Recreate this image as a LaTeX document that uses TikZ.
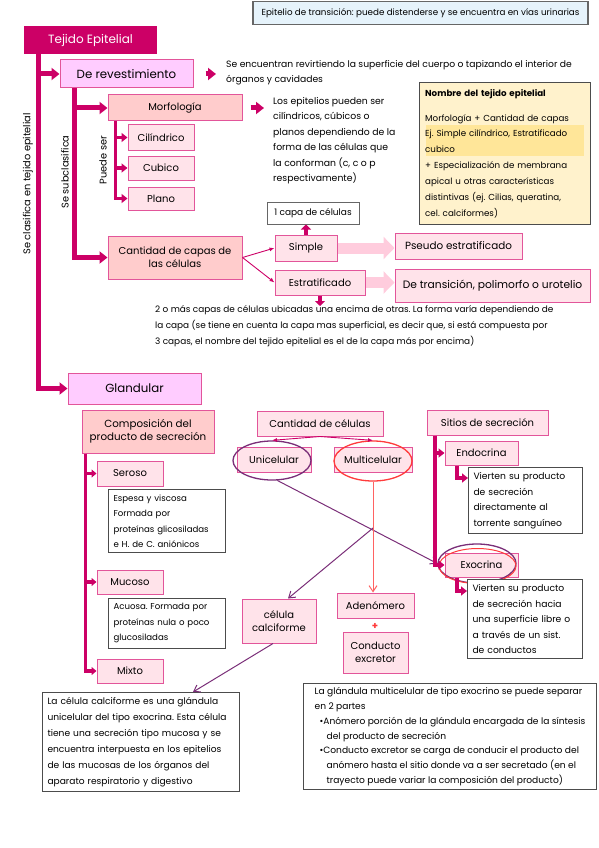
\documentclass[tikz,border=0pt]{standalone}
\usepackage{fontspec}
\setmainfont{Poppins}
\usetikzlibrary{arrows.meta,shapes.geometric}

\definecolor{magdark}{HTML}{CC0066}
\definecolor{bordpink}{HTML}{E2559A}
\definecolor{revfill}{HTML}{FFCCFF}
\definecolor{subfill}{HTML}{FFCCCC}
\definecolor{leaffill}{HTML}{FFE3EA}
\definecolor{fatpink}{HTML}{FFCCDD}
\definecolor{purpl}{HTML}{7A2E78}
\definecolor{redl}{HTML}{FF3B3B}
\definecolor{notefill}{HTML}{FFF2CC}
\definecolor{hilite}{HTML}{FFE699}
\definecolor{bannerfill}{HTML}{E6F3FB}
\newcommand\fs[1]{\fontsize{#1}{15.5}\selectfont}

\begin{document}
\frenchspacing
\begin{tikzpicture}[x=1pt,y=-1pt,>=Latex,
  every node/.style={font=\fontsize{10}{13}\selectfont,align=center,inner sep=2pt},
  sz/.style 2 args={minimum width=#1pt,minimum height=#2pt},
  dark/.style={fill=magdark,text=white,font=\fontsize{12}{14}\selectfont},
  lvl1/.style={draw=bordpink,line width=1pt,fill=revfill,font=\fontsize{11.8}{14}\selectfont},
  lvl2/.style={draw=bordpink,line width=1pt,fill=subfill},
  leaf/.style={draw=bordpink,line width=1pt,fill=leaffill},
  note/.style={draw=black!70,line width=1pt,fill=white,align=left,anchor=north west,inner sep=5pt},
  plain/.style={align=left,anchor=north west},
  vert/.style={rotate=90,font=\fontsize{9.8}{11}\selectfont},
  bar/.style={draw=magdark,line width=5pt,-{Triangle[length=8pt,width=12pt]}},
  midbar/.style={draw=magdark,line width=3.5pt,-{Triangle[length=6pt,width=9pt]}},
  thinarr/.style={draw=magdark,line width=0.9pt,-{Latex[length=5pt,width=4pt]}},
  purparr/.style={draw=purpl,line width=1pt,-{Straight Barb[length=6pt,width=8pt]}},
  fat/.style={draw=fatpink,line width=11pt,-{Triangle[length=11pt,width=22pt]}},
  oval/.style={ellipse,draw=#1,line width=1.3pt}]
\useasboundingbox (0,0) rectangle (599,848);

% cabecera
\node[draw=black!60,line width=1.5pt,fill=bannerfill,sz={335}{23},font=\fontsize{8.75}{10}\selectfont] (banner) at (420.5,13) {Epitelio de transición: puede distenderse y se encuentra en vías urinarias};

% tejido de revestimiento
\node[dark,sz={133}{28}] (tejido) at (90.5,40) {Tejido Epitelial};
\node[lvl1,sz={133}{28}] (revest) at (126.5,74) {De revestimiento};
\node[plain,font=\fs{9.2}] (revtxt) at (224,58) {Se encuentran revirtiendo la superficie del cuerpo o tapizando el interior de\\órganos y cavidades};
\node[lvl2,sz={134}{26}] (morf) at (175,108) {Morfología};
\node[plain,font=\fs{9.3}] (morftxt) at (271,95) {Los epitelios pueden ser\\cilíndricos, cúbicos o\\planos dependiendo de la\\forma de las células que\\la conforman (c, c o p\\respectivamente)};
\node[leaf,sz={66}{25}] (cil) at (161,137.5) {Cilíndrico};
\node[leaf,sz={66}{24}] (cub) at (161,168) {Cubico};
\node[leaf,sz={66}{23}] (plano) at (161,198.5) {Plano};
\node[lvl2,sz={134}{43}] (cantcap) at (175,257.5) {Cantidad de capas de\\las células};
\node[draw=black!60,line width=1pt,sz={92}{22},font=\fontsize{9}{11}\selectfont] (capa1) at (313,213) {1 capa de células};
\node[leaf,sz={62}{26}] (simple) at (306,248) {Simple};
\node[leaf,sz={90}{25}] (estrat) at (320,282.5) {Estratificado};
\node[leaf,sz={127}{26},font=\fontsize{10.4}{13}\selectfont] (pseudo) at (458.5,246) {Pseudo estratificado};
\node[leaf,sz={195}{33},font=\fontsize{10.7}{13}\selectfont] (transic) at (492.5,285.5) {De transición, polimorfo o urotelio};
\node[plain,font=\fontsize{8.9}{16.2}\selectfont] (estrtxt) at (153,303) {2 o más capas de células ubicadas una encima de otras. La forma varía dependiendo de\\la capa (se tiene en cuenta la capa mas superficial, es decir que, si está compuesta por\\3 capas, el nombre del tejido epitelial es el de la capa más por encima)};
\node[note,fill=notefill,sz={171}{142}] (nombre) at (419,82) {};
\fill[hilite] ([xshift=7pt,yshift=-43pt]nombre.north west) rectangle ([xshift=-7pt,yshift=-74pt]nombre.north east);
\node[plain,text width=163pt,font=\fontsize{8.7}{15.9}\selectfont] (nombretxt) at ([xshift=4pt,yshift=-5pt]nombre.north west) {\textbf{Nombre del tejido epitelial}\\[9pt]Morfología + Cantidad de capas\\Ej. Simple cilíndrico, Estratificado\\cubico\\+ Especialización de membrana\\apical u otras características\\distintivas (ej. Cilias, queratina,\\cel. calciformes)};

% rotulos verticales
\node[vert] (clasif) at (28,184) {Se clasifica en tejido epitelial};
\node[vert] (subcl) at (65,172) {Se subclasifica};
\node[vert] (puede) at (103,160) {Puede ser};

% tejido glandular
\node[lvl1,sz={133}{31}] (glandular) at (134.5,388.5) {Glandular};
\node[lvl2,sz={132}{43},font=\fontsize{10.3}{13}\selectfont] (compos) at (148,431.5) {Composición del\\producto de secreción};
\node[leaf,sz={66}{25}] (seroso) at (130,473.5) {Seroso};
\node[note,text width=107pt,font=\fs{8.6}] (serotxt) at (108,489) {Espesa y viscosa\\Formada por\\proteínas glicosiladas\\e H. de C. aniónicos};
\node[leaf,sz={66}{24}] (mucoso) at (130,582) {Mucoso};
\node[note,text width=107pt,font=\fs{8.6}] (mucotxt) at (108,598) {Acuosa. Formada por\\proteínas nula o poco\\glucosiladas};
\node[leaf,sz={66}{24}] (mixto) at (130,671) {Mixto};
\node[note,text width=187pt,font=\fontsize{9.1}{15.9}\selectfont] (calcitxt) at (42,692) {La célula calciforme es una glándula\\unicelular del tipo exocrina. Esta célula\\tiene una secreción tipo mucosa y se\\encuentra interpuesta en los epitelios\\de las mucosas de los órganos del\\aparato respiratorio y digestivo};

\node[leaf,sz={126}{25}] (cantcel) at (320,423.5) {Cantidad de células};
\node[leaf,sz={74}{25}] (unicel) at (274,459.5) {Unicelular};
\node[leaf,sz={78}{25}] (multicel) at (373,459.5) {Multicelular};
\node[oval=purpl,sz={78}{39}] (uniov) at (272,460.5) {};
\node[oval=redl,sz={78}{40}] (multiov) at (373,461) {};
\node[leaf,sz={74}{44}] (calci) at (279,621) {célula\\calciforme};
\node[leaf,sz={77}{25}] (adeno) at (375.5,605.5) {Adenómero};
\node[text=redl,font=\bfseries] (plus) at (375,626) {+};
\node[leaf,sz={65}{41}] (conducto) at (375.5,652.5) {Conducto\\excretor};

\node[leaf,sz={121}{25}] (sitios) at (487.5,422.5) {Sitios de secreción};
\node[leaf,sz={73}{24}] (endo) at (481.5,453) {Endocrina};
\node[note,text width=104pt,font=\fs{9.2}] (endotxt) at (468,467) {Vierten su producto\\de secreción\\directamente al\\torrente sanguíneo};
\node[leaf,sz={73}{24}] (exo) at (481.5,565) {Exocrina};
\node[oval=purpl,sz={78}{39}] (exoov) at (477,563.5) {};
\node[oval=redl,line width=1pt,sz={77}{35}] (exoovr) at (477.5,566) {};
\node[note,text width=105pt,font=\fs{9.2}] (exotxt) at (467,579) {Vierten su producto\\de secreción hacia\\una superficie libre o\\a través de un sist.\\de conductos};
\node[note,inner sep=4pt,minimum width=293pt,font=\fontsize{9.1}{14.8}\selectfont] (multitxt) at (303,683) {La glándula multicelular de tipo exocrino se puede separar\\en 2 partes\\\hspace*{5pt}\textbullet Anómero porción de la glándula encargada de la síntesis\\\hspace*{12pt}del producto de secreción\\\hspace*{5pt}\textbullet Conducto excretor se carga de conducir el producto del\\\hspace*{12pt}anómero hasta el sitio donde va a ser secretado (en el\\\hspace*{12pt}trayecto puede variar la composición del producto)};

% conectores de revestimiento
\draw[bar] ([xshift=15pt]tejido.south west) |- (glandular);
\draw[bar] ([xshift=15pt]tejido.south west) |- (revest);
\draw[bar] ([xshift=15pt]revest.south west) |- (cantcap);
\draw[bar] ([xshift=15pt]revest.south west) |- (morf);
\draw[bar,shorten <=12pt,shorten >=8pt] (revest.east) -- (revest.east -| revtxt.west);
\draw[bar,shorten <=8pt,shorten >=7pt] (morf.east) -- (morf.east -| morftxt.west);
\foreach \n in {cil,cub,plano}
  \draw[midbar] ([xshift=8pt]morf.south west) |- (\n);
\draw[thinarr] (cantcap.east) -- (simple.west);
\draw[thinarr] (cantcap.east) -- (estrat.west);
\draw[bar,line width=4pt,-{Triangle[length=5pt,width=10pt]}] (simple.north) -- (simple.north |- capa1.south);
\draw[bar,line width=4pt,-{Triangle[length=5pt,width=10pt]}] (estrat.south) -- ([yshift=-3pt]estrat.south |- estrtxt.north);
\draw[fat] (simple.east) -- (simple.east -| pseudo.west);
\draw[fat] (estrat.east) -- (estrat.east -| transic.west);

% conectores glandulares
\foreach \n in {seroso,mucoso,mixto}
  \draw[midbar,-{Triangle[length=5pt,width=8pt]}] ([xshift=4pt]compos.south west) |- (\n);
\draw[thinarr] (cantcel.south) -- (uniov.north);
\draw[thinarr] (cantcel.south) -- (multiov.north);
\draw[purparr] (uniov.-75) -- (exoov.west);
\coordinate (split) at (373,528);
\draw[purparr] (split) -- ([xshift=9pt]calci.north);
\draw[purparr] ([xshift=-6pt]calci.south) -- ([xshift=52pt]calcitxt.north);
\draw[draw=redl!80,line width=1pt,-{Straight Barb[length=6pt,width=8pt]}] (multiov.south) -- (multiov.south |- adeno.north);
\foreach \n in {endo,exo}
  \draw[midbar,line width=4pt] ([xshift=8pt]sitios.south west) |- (\n);
\draw[midbar,line width=4pt] ([xshift=12pt]endo.south west) |- ([yshift=-11pt]endotxt.north west);
\draw[midbar,line width=4pt] ([xshift=12pt]exo.south west) |- ([yshift=-12pt]exotxt.north west);
\end{tikzpicture}
\end{document}
